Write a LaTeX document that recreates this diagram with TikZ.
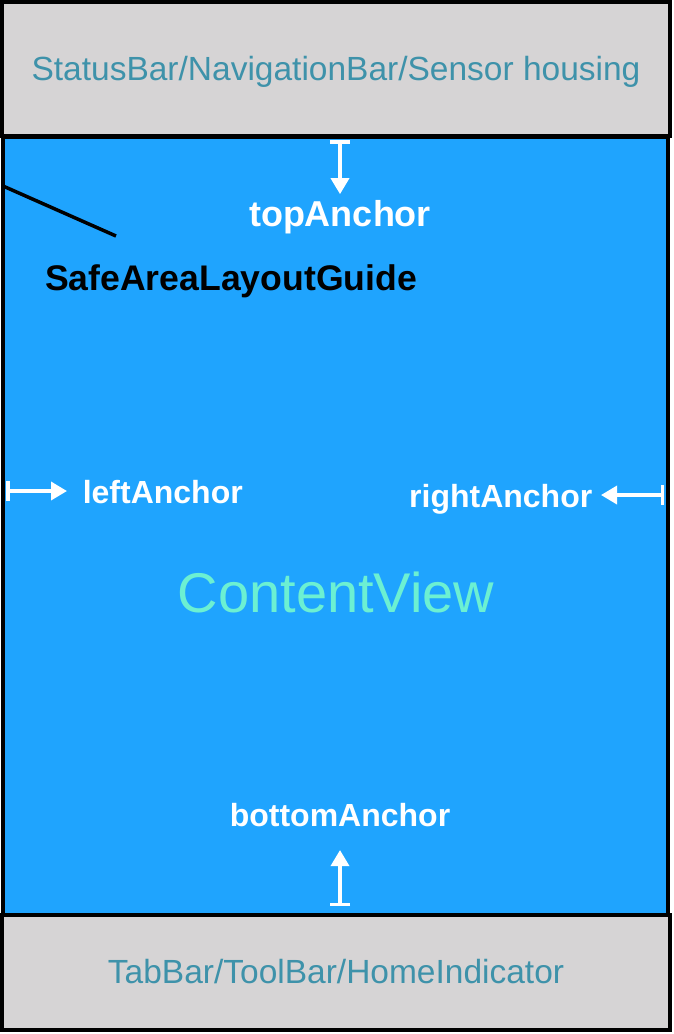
\documentclass[tikz,border=0pt]{standalone}
\usepackage{fontspec}
\setmainfont{Liberation Sans}
\usetikzlibrary{arrows.meta,positioning}
\definecolor{barGray}{HTML}{D6D4D5}
\definecolor{viewBlue}{HTML}{1FA4FE}
\definecolor{barText}{HTML}{3E92AA}
\definecolor{mint}{HTML}{6CF0D2}

\begin{document}
\begin{tikzpicture}[x=1pt,y=-1pt,line width=3.5pt,
                    bar/.style={draw=black,fill=barGray},
                    bartext/.style={text=barText,inner sep=0pt,anchor=base,
                                    font=\fontsize{33.5}{36}\selectfont},
                    anchortext/.style={text=white,inner sep=0pt,
                                       font=\bfseries\fontsize{32}{36}\selectfont},
                    anchorarrow/.style={draw=white,line width=3.5pt,
                      {Bar[width=20pt]}-{Triangle[width=18pt,length=16pt]}}]
  \useasboundingbox (0,0) rectangle (674,1034);

  % bars and safe area
  \draw[bar]             (2,2)   rectangle (670,136);
  \draw[fill=viewBlue]   (3,137) rectangle (668,915);
  \draw[bar]             (2,915) rectangle (670,1030);

  \node[bartext]                   (SB)   at (336,80)  {StatusBar/NavigationBar/Sensor housing};
  \node[bartext]                   (TB)   at (336,983) {TabBar/ToolBar/HomeIndicator};
  \node[text=mint,inner sep=0pt,anchor=base,
        font=\fontsize{56}{60}\selectfont] (CV) at (336,612) {ContentView};

  \node[anchortext,anchor=base,font=\bfseries\fontsize{36}{40}\selectfont]
                                      (topA)   at (340,226) {topAnchor};
  \node[anchortext,anchor=base west]  (leftA)  at (81,503)  {leftAnchor};
  \node[anchortext,anchor=base east]  (rightA) at (594,507) {rightAnchor};
  \node[anchortext,anchor=base]       (botA)   at (340,826) {bottomAnchor};
  \node[anchortext,text=black,anchor=base,font=\bfseries\fontsize{35.6}{40}\selectfont]
                                      (guide)  at (231,290) {SafeAreaLayoutGuide};

  \coordinate (topEdge)   at (340,140);
  \coordinate (leftEdge)  at (6,491);
  \coordinate (rightEdge) at (664,495);
  \coordinate (botEdge)   at (340,906);
  \coordinate (guideFrom) at (3,186);
  \coordinate (guideTo)   at (116,236);

  \draw[anchorarrow,shorten >=4pt]  (topEdge)   -- (topEdge |- topA.north);
  \draw[anchorarrow,shorten >=14pt] (leftEdge)  -- (leftEdge -| leftA.west);
  \draw[anchorarrow,shorten >=7pt]  (rightEdge) -- (rightEdge -| rightA.east);
  \draw[anchorarrow,shorten >=22pt] (botEdge)   -- (botEdge |- botA.south);
  \draw (guideFrom) -- (guideTo);
\end{tikzpicture}
\end{document}
